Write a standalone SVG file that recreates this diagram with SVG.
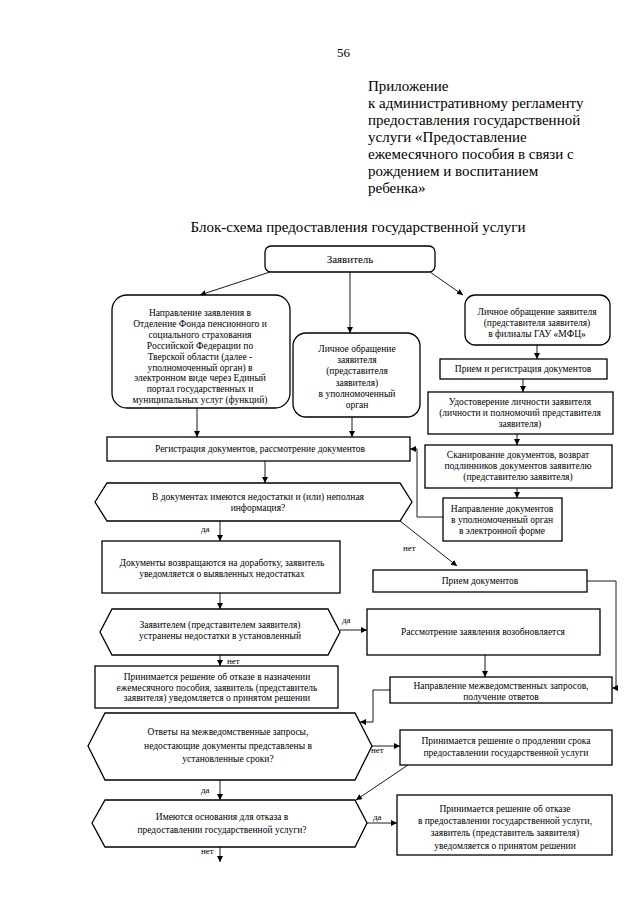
<svg xmlns="http://www.w3.org/2000/svg" width="640" height="904" viewBox="0 0 640 904">
<defs>
<style>
.t{font-family:"Liberation Serif","Times New Roman",serif;fill:#000}
.hd{font-size:15px}
.s{font-size:9.5px;text-anchor:middle}
.l{font-size:9px}
.b{fill:#fff;stroke:#000;stroke-width:1.3}
.c{fill:none;stroke:#000;stroke-width:0.9}
</style>
<marker id="a" viewBox="0 0 8 8" refX="8" refY="4" markerWidth="6" markerHeight="6" orient="auto" markerUnits="userSpaceOnUse"><path d="M0,0 L8,4 L0,8 z" fill="#000"/></marker>
</defs>
<rect width="640" height="904" fill="#fff"/>
<g id="header" class="t hd">
<text x="337" y="57" font-size="13">56</text>
<text x="368" y="91">Приложение</text>
<text x="368" y="108">к административному регламенту</text>
<text x="368" y="125">предоставления государственной</text>
<text x="368" y="142">услуги «Предоставление</text>
<text x="368" y="159">ежемесячного пособия в связи с</text>
<text x="368" y="176">рождением и воспитанием</text>
<text x="368" y="193">ребенка»</text>
<text x="358" y="232" text-anchor="middle">Блок-схема предоставления государственной услуги</text>
</g>
<g id="connectors" class="c">
<path d="M270,272 L200,295" marker-end="url(#a)"/>
<path d="M350,272 V333" marker-end="url(#a)"/>
<path d="M430,272 L463,295" marker-end="url(#a)"/>
<path d="M537,345 V359" marker-end="url(#a)"/>
<path d="M523,379 V392" marker-end="url(#a)"/>
<path d="M517,434 V445" marker-end="url(#a)"/>
<path d="M517,488 V498" marker-end="url(#a)"/>
<path d="M443,517 H417 V449 H410" marker-end="url(#a)"/>
<path d="M197,408 V437" marker-end="url(#a)"/>
<path d="M352,417 V437" marker-end="url(#a)"/>
<path d="M265,461 V483" marker-end="url(#a)"/>
<path d="M220,521 V541" marker-end="url(#a)"/>
<path d="M400,521 L457,566" marker-end="url(#a)"/>
<path d="M220,593 V609" marker-end="url(#a)"/>
<path d="M587,581 H616 V688 H612" marker-end="url(#a)"/>
<path d="M340,630 H367" marker-end="url(#a)"/>
<path d="M485,655 V677" marker-end="url(#a)"/>
<path d="M220,655 V666" marker-end="url(#a)"/>
<path d="M390,690 H373 V722 H360" marker-end="url(#a)"/>
<path d="M372,746 H400" marker-end="url(#a)"/>
<path d="M408,765 L356,800" marker-end="url(#a)"/>
<path d="M220,780 V800" marker-end="url(#a)"/>
<path d="M367,823 H397" marker-end="url(#a)"/>
<path d="M220,847 V862" marker-end="url(#a)"/>
</g>
<g id="labels" class="t l">
<text x="201" y="532">да</text>
<text x="403" y="551">нет</text>
<text x="342" y="623">да</text>
<text x="227" y="664">нет</text>
<text x="371" y="753">нет</text>
<text x="201" y="793">да</text>
<text x="373" y="820">да</text>
<text x="201" y="854">нет</text>
</g>
<g id="n-applicant">
<rect class="b" x="265" y="246" width="170" height="26" rx="6"/>
<text class="t" x="350" y="263" font-size="11" text-anchor="middle">Заявитель</text>
</g>
<g id="n-epgu">
<rect class="b" x="112" y="295" width="178" height="113" rx="15"/>
<text class="t s"><tspan x="200" y="316">Направление заявления в</tspan><tspan x="200" dy="10.9">Отделение Фонда пенсионного и</tspan><tspan x="200" dy="10.9">социального страхования</tspan><tspan x="200" dy="10.9">Российской Федерации по</tspan><tspan x="200" dy="10.9">Тверской области (далее -</tspan><tspan x="200" dy="10.9">уполномоченный орган) в</tspan><tspan x="200" dy="10.9">электронном виде через Единый</tspan><tspan x="200" dy="10.9">портал государственных и</tspan><tspan x="200" dy="10.9">муниципальных услуг (функций)</tspan></text>
</g>
<g id="n-personal">
<rect class="b" x="293" y="333" width="127" height="84" rx="13"/>
<text class="t s"><tspan x="357" y="352">Личное обращение</tspan><tspan x="357" dy="11.2">заявителя</tspan><tspan x="357" dy="11.2">(представителя</tspan><tspan x="357" dy="11.2">заявителя)</tspan><tspan x="357" dy="11.2">в уполномоченный</tspan><tspan x="357" dy="11.2">орган</tspan></text>
</g>
<g id="n-mfc">
<rect class="b" x="465" y="295" width="145" height="50" rx="10"/>
<text class="t s"><tspan x="537" y="315">Личное обращение заявителя</tspan><tspan x="537" dy="11">(представителя заявителя)</tspan><tspan x="537" dy="11">в филиалы ГАУ «МФЦ»</tspan></text>
</g>
<g id="n-reg-mfc">
<rect class="b" x="440" y="359" width="167" height="20"/>
<text class="t s" x="523" y="372">Прием и регистрация документов</text>
</g>
<g id="n-identity">
<rect class="b" x="428" y="392" width="185" height="42"/>
<text class="t s"><tspan x="520" y="405">Удостоверение личности заявителя</tspan><tspan x="520" dy="10.8">(личности и полномочий представителя</tspan><tspan x="520" dy="10.8">заявителя)</tspan></text>
</g>
<g id="n-scan">
<rect class="b" x="425" y="445" width="187" height="43"/>
<text class="t s"><tspan x="518" y="458">Сканирование документов, возврат</tspan><tspan x="518" dy="11">подлинников документов заявителю</tspan><tspan x="518" dy="11">(представителю заявителя)</tspan></text>
</g>
<g id="n-send">
<rect class="b" x="443" y="498" width="119" height="43"/>
<text class="t s"><tspan x="502" y="512">Направление документов</tspan><tspan x="502" dy="11">в уполномоченный орган</tspan><tspan x="502" dy="11">в электронной форме</tspan></text>
</g>
<g id="n-register">
<rect class="b" x="107" y="437" width="303" height="24"/>
<text class="t s" x="260" y="452">Регистрация документов, рассмотрение документов</text>
</g>
<g id="d-deficiencies">
<path class="b" d="M95,502 L107,483 H400 L412,502 L400,521 H107 Z"/>
<text class="t s"><tspan x="258" y="500">В документах имеются недостатки и (или) неполная</tspan><tspan x="258" dy="11">информация?</tspan></text>
</g>
<g id="n-returned">
<rect class="b" x="102" y="541" width="238" height="52"/>
<text class="t s"><tspan x="222" y="566">Документы возвращаются на доработку, заявитель</tspan><tspan x="222" dy="11">уведомляется о выявленных недостатках</tspan></text>
</g>
<g id="n-accept">
<rect class="b" x="373" y="570" width="214" height="22"/>
<text class="t s" x="480" y="584">Прием документов</text>
</g>
<g id="d-fixed">
<path class="b" d="M100,632 L112,609 H328 L340,632 L328,655 H112 Z"/>
<text class="t s"><tspan x="220" y="628">Заявителем (представителем заявителя)</tspan><tspan x="220" dy="11">устранены недостатки в установленный</tspan></text>
</g>
<g id="n-resumed">
<rect class="b" x="367" y="609" width="233" height="46"/>
<text class="t s" x="483" y="635">Рассмотрение заявления возобновляется</text>
</g>
<g id="n-refuse1">
<rect class="b" x="95" y="666" width="243" height="42"/>
<text class="t s"><tspan x="217" y="680">Принимается решение об отказе в назначении</tspan><tspan x="217" dy="10.5">ежемесячного пособия, заявитель (представитель</tspan><tspan x="217" dy="10.5">заявителя) уведомляется о принятом решении</tspan></text>
</g>
<g id="n-requests">
<rect class="b" x="390" y="677" width="222" height="26"/>
<text class="t s"><tspan x="501" y="689">Направление межведомственных запросов,</tspan><tspan x="501" dy="10.5">получение ответов</tspan></text>
</g>
<g id="d-answers">
<path class="b" d="M88,746 L105,713 H355 L372,746 L355,780 H105 Z"/>
<text class="t s"><tspan x="228" y="735">Ответы на межведомственные запросы,</tspan><tspan x="228" dy="13.5">недостающие документы представлены в</tspan><tspan x="228" dy="13.5">установленные сроки?</tspan></text>
</g>
<g id="n-extend">
<rect class="b" x="400" y="730" width="212" height="35"/>
<text class="t s"><tspan x="506" y="744">Принимается решение о продлении срока</tspan><tspan x="506" dy="12">предоставлении государственной услуги</tspan></text>
</g>
<g id="d-grounds">
<path class="b" d="M92,823 L105,800 H355 L367,823 L355,847 H105 Z"/>
<text class="t s"><tspan x="222" y="820">Имеются основания для отказа в</tspan><tspan x="222" dy="12.5">предоставлении государственной услуги?</tspan></text>
</g>
<g id="n-refuse2">
<rect class="b" x="397" y="795" width="215" height="60"/>
<text class="t s"><tspan x="505" y="812">Принимается решение об отказе</tspan><tspan x="505" dy="12.2">в предоставлении государственной услуги,</tspan><tspan x="505" dy="12.2">заявитель (представитель заявителя)</tspan><tspan x="505" dy="12.2">уведомляется о принятом решении</tspan></text>
</g>
</svg>
